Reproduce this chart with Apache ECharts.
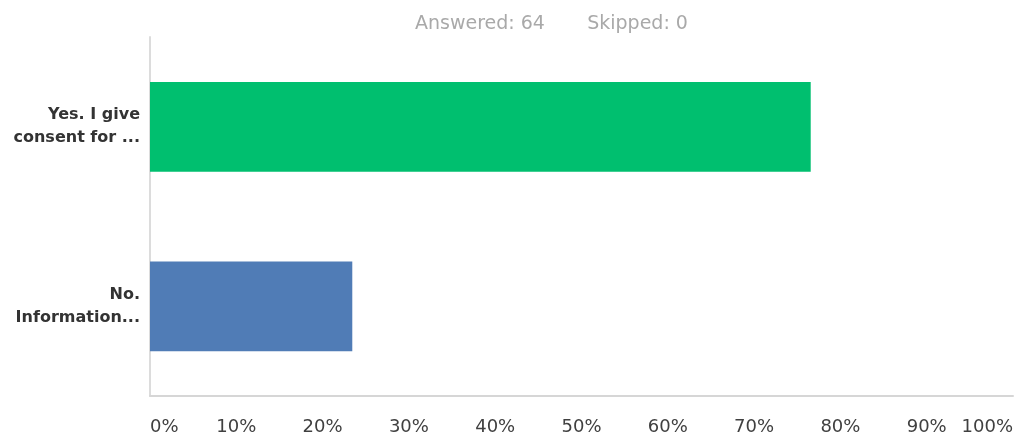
<!DOCTYPE html>
<html>
<head>
<meta charset="utf-8">
<title>Survey responses</title>
<script src="https://cdn.jsdelivr.net/npm/echarts@6/dist/echarts.min.js"></script>
<style>
  html, body { margin: 0; padding: 0; background: #ffffff; }
  #chart { width: 1016px; height: 438px; }
</style>
</head>
<body>
<div id="chart"></div>
<script>
// Answer choices (top to bottom) and share of respondents, in percent
const categories = ['Yes. I give\nconsent for ...', 'No.\nInformation...'];
const percentages = [76.56, 23.44];
const barColors = ['#00bf6f', '#507cb6'];
const tickValues = [0, 10, 20, 30, 40, 50, 60, 70, 80, 90, 100];
const answeredCount = 64;
const skippedCount = 0;

const chart = echarts.init(document.getElementById('chart'), null, { renderer: 'canvas' });

chart.setOption({
  backgroundColor: '#ffffff',
  animation: false,
  title: {
    text: 'Answered: ' + answeredCount + '       Skipped: ' + skippedCount,
    left: 410,
    top: 10,
    textStyle: {
      fontFamily: 'DejaVu Sans',
      fontSize: 19,
      fontWeight: 'normal',
      color: '#a9a9a9'
    }
  },
  grid: {
    left: 150,
    right: 3,
    top: 37,
    bottom: 42,
    containLabel: false
  },
  xAxis: {
    type: 'value',
    min: tickValues[0],
    max: tickValues[tickValues.length - 1],
    interval: 10,
    axisLine: { show: true, lineStyle: { color: '#d6d6d6', width: 2 } },
    axisTick: { show: false },
    splitLine: { show: false },
    axisLabel: {
      formatter: '{value}%',
      margin: 22,
      fontFamily: 'DejaVu Sans',
      fontSize: 18,
      color: '#404040',
      alignMinLabel: 'left',
      alignMaxLabel: 'right'
    }
  },
  yAxis: {
    type: 'category',
    data: categories,
    inverse: true,
    axisLine: { show: true, lineStyle: { color: '#dcdcdc', width: 2 } },
    axisTick: { show: false },
    splitLine: { show: false },
    axisLabel: {
      margin: 10,
      fontFamily: 'DejaVu Sans',
      fontSize: 16,
      fontWeight: 'bold',
      lineHeight: 23,
      color: '#333333',
      align: 'right'
    }
  },
  series: [{
    type: 'bar',
    data: percentages.map((v, i) => ({ value: v, itemStyle: { color: barColors[i] } })),
    barWidth: '50%',
    silent: true
  }]
});
</script>
</body>
</html>
